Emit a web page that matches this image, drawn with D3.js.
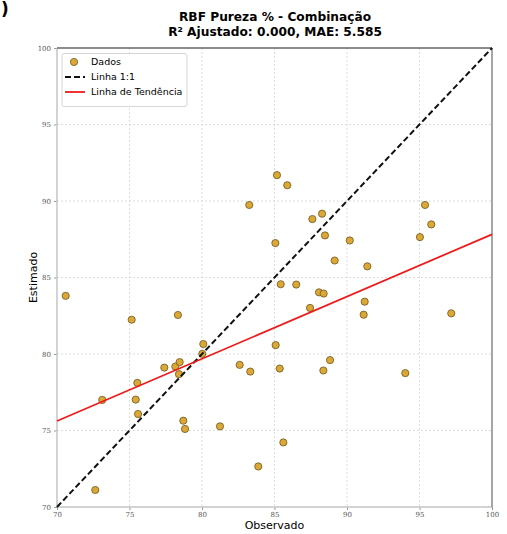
<!DOCTYPE html>
<html>
<head>
<meta charset="utf-8">
<script src="https://cdn.jsdelivr.net/npm/d3@7"></script>
<style>
  body { margin: 0; background: #fff; }
  text { font-family: "DejaVu Sans", sans-serif; }
</style>
</head>
<body>
<script>
var observado = [70.6, 75.15, 78.34, 83.26, 80.09, 80.02, 77.4, 78.16, 78.46, 78.41,
  75.54, 73.12, 75.43, 75.59, 78.71, 78.83, 81.24, 82.6, 83.33, 83.88,
  72.64, 85.17, 85.88, 88.28, 87.61, 88.48, 90.19, 85.06, 89.15, 91.4,
  85.43, 86.5, 88.07, 88.39, 87.45, 91.22, 91.15, 85.08, 85.36, 88.83,
  88.37, 85.61, 95.38, 95.81, 95.03, 97.19, 94.02];
var estimado = [83.8, 82.24, 82.55, 89.74, 80.65, 80.01, 79.11, 79.18, 79.47, 78.68,
  78.11, 77.0, 77.02, 76.08, 75.64, 75.1, 75.27, 79.29, 78.85, 72.65,
  71.11, 91.69, 91.03, 89.17, 88.82, 87.75, 87.42, 87.25, 86.11, 85.73,
  84.56, 84.54, 84.03, 83.95, 83.01, 83.42, 82.57, 80.58, 79.05, 79.6,
  78.92, 74.22, 89.74, 88.47, 87.64, 82.66, 78.75];

// Reference lines
var linha11 = [70, 100];
var tendenciaX = [70, 100];
var tendenciaY = [75.62, 87.82];

var ticks = [70, 75, 80, 85, 90, 95, 100];
var legendLabels = ['Dados', 'Linha 1:1', 'Linha de Tendência'];

// Chart definitions
var width = 507, height = 534;
var plot = { left: 57, right: 492, top: 48, bottom: 507 };

var svg = d3.select('body').append('svg')
  .attr('width', width)
  .attr('height', height);

var x = d3.scaleLinear().domain([70, 100]).range([plot.left, plot.right]);
var y = d3.scaleLinear().domain([70, 100]).range([plot.bottom, plot.top]);

// Stray panel letter at top-left corner
svg.append('text')
  .attr('x', 1).attr('y', 15)
  .style('font-size', '17px').style('font-weight', 'bold')
  .text(')');

// Title
var title = svg.append('text')
  .attr('text-anchor', 'middle')
  .style('font-size', '12.2px')
  .style('font-weight', 'bold');
title.append('tspan').attr('x', 275).attr('y', 21).text('RBF Pureza % - Combinação');
title.append('tspan').attr('x', 275).attr('y', 36).text('R² Ajustado: 0.000, MAE: 5.585');

// Grid
svg.append('g').selectAll('line.gx')
  .data(ticks.slice(1, -1))
  .enter().append('line')
  .attr('x1', d => x(d)).attr('x2', d => x(d))
  .attr('y1', plot.top).attr('y2', plot.bottom)
  .style('stroke', '#d4d4d4').style('stroke-width', 0.8)
  .style('stroke-dasharray', '2,2');
svg.append('g').selectAll('line.gy')
  .data(ticks.slice(1, -1))
  .enter().append('line')
  .attr('y1', d => y(d)).attr('y2', d => y(d))
  .attr('x1', plot.left).attr('x2', plot.right)
  .style('stroke', '#d4d4d4').style('stroke-width', 0.8)
  .style('stroke-dasharray', '2,2');

// Axes
var xAxis = svg.append('g')
  .attr('transform', 'translate(0,' + plot.bottom + ')')
  .call(d3.axisBottom(x).tickValues(ticks).tickSize(3).tickFormat(d3.format('d')));
var yAxis = svg.append('g')
  .attr('transform', 'translate(' + plot.left + ',0)')
  .call(d3.axisLeft(y).tickValues(ticks).tickSize(3).tickFormat(d3.format('d')));
[xAxis, yAxis].forEach(ax => {
  ax.select('.domain').remove();
  ax.selectAll('line').style('stroke', '#999');
  ax.selectAll('text')
    .style('font-family', '"DejaVu Serif", serif')
    .style('font-size', '7px')
    .style('fill', '#555');
});
xAxis.selectAll('text').attr('dy', '0.5em');

// Frame
var frame = [
  { x1: plot.left, y1: plot.top, x2: plot.left, y2: plot.bottom, c: '#c4c4c4' },
  { x1: plot.left, y1: plot.bottom, x2: plot.right, y2: plot.bottom, c: '#c4c4c4' },
  { x1: plot.left, y1: plot.top, x2: plot.right, y2: plot.top, c: '#666' },
  { x1: plot.right, y1: plot.top, x2: plot.right, y2: plot.bottom, c: '#888' }
];
svg.append('g').selectAll('line')
  .data(frame).enter().append('line')
  .attr('x1', d => d.x1).attr('y1', d => d.y1)
  .attr('x2', d => d.x2).attr('y2', d => d.y2)
  .style('stroke', d => d.c).style('stroke-width', 1.5);

// Points
svg.append('g').selectAll('circle')
  .data(observado)
  .enter().append('circle')
  .attr('cx', d => x(d))
  .attr('cy', (d, i) => y(estimado[i]))
  .attr('r', 3.6)
  .style('fill', '#dba836')
  .style('stroke', '#6e5520')
  .style('stroke-width', 0.8);

// 1:1 line and trend line
svg.append('line')
  .attr('x1', x(linha11[0])).attr('y1', y(linha11[0]))
  .attr('x2', x(linha11[1])).attr('y2', y(linha11[1]))
  .style('stroke', '#111').style('stroke-width', 2)
  .style('stroke-dasharray', '6,3');
svg.append('line')
  .attr('x1', x(tendenciaX[0])).attr('y1', y(tendenciaY[0]))
  .attr('x2', x(tendenciaX[1])).attr('y2', y(tendenciaY[1]))
  .style('stroke', '#ee1c1c').style('stroke-width', 1.8);

// Axis labels
svg.append('text')
  .attr('x', x(85)).attr('y', 529)
  .attr('text-anchor', 'middle')
  .style('font-size', '11px')
  .text('Observado');
svg.append('text')
  .attr('transform', 'translate(37,' + y(85) + ') rotate(-90)')
  .attr('text-anchor', 'middle')
  .style('font-size', '11px')
  .text('Estimado');

// Legend
var legend = svg.append('g');
legend.append('rect')
  .attr('x', 62).attr('y', 53.5)
  .attr('width', 125).attr('height', 53)
  .attr('rx', 2)
  .style('fill', '#fff').style('stroke', '#ccc').style('stroke-width', 0.8);
var rows = legend.selectAll('g.row')
  .data(legendLabels).enter().append('g')
  .attr('transform', (d, i) => 'translate(0,' + (62 + i * 15) + ')');
rows.append('text')
  .attr('x', 91).attr('y', 0).attr('dy', '0.35em')
  .style('font-size', '9.5px')
  .text(d => d);
rows.filter((d, i) => i == 0).append('circle')
  .attr('cx', 74).attr('cy', 0).attr('r', 3.6)
  .style('fill', '#dba836').style('stroke', '#6e5520').style('stroke-width', 0.8);
rows.filter((d, i) => i == 1).append('line')
  .attr('x1', 65).attr('x2', 85)
  .style('stroke', '#111').style('stroke-width', 2).style('stroke-dasharray', '6,3');
rows.filter((d, i) => i == 2).append('line')
  .attr('x1', 65).attr('x2', 85)
  .style('stroke', '#ee1c1c').style('stroke-width', 1.8);
</script>
</body>
</html>
